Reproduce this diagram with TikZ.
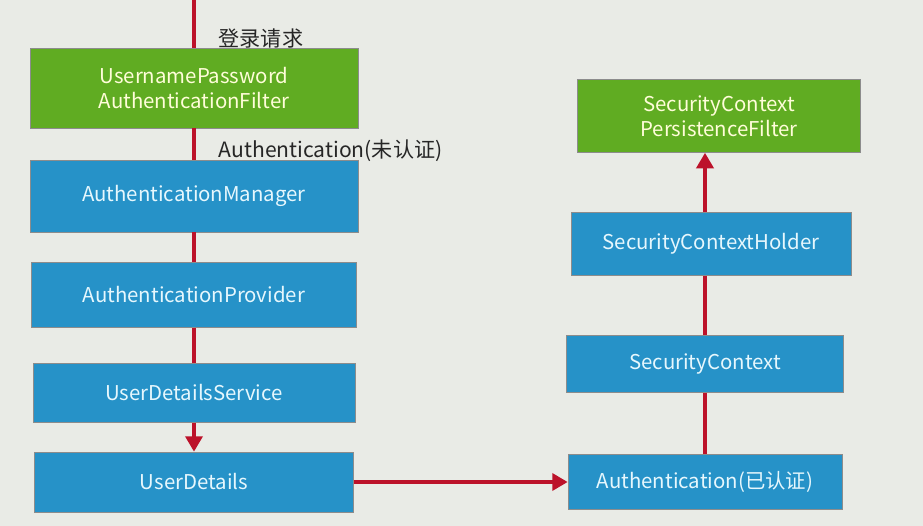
\documentclass[tikz,border=0pt]{standalone}
\usepackage{fontspec}
\setmainfont{Noto Sans CJK SC}
\usetikzlibrary{positioning, arrows.meta}

\definecolor{boxblue}{RGB}{38,146,200}
\definecolor{boxgreen}{RGB}{96,172,34}
\definecolor{flowred}{RGB}{188,18,42}
\definecolor{paper}{RGB}{233,235,230}

\begin{document}
\begin{tikzpicture}[x=0.025cm, y=-0.025cm,
    box/.style={rectangle, draw=black!45, thin, text centered, font=\fontsize{14.5}{18}\selectfont, inner sep=2pt},
    bluebox/.style={box, fill=boxblue, text=white!90!cyan},
    greenbox/.style={box, fill=boxgreen, text=yellow!15!white, text width=6.5cm},
    flow/.style={draw=flowred, line width=3pt},
    flowarrow/.style={flow, -{Triangle[width=12pt, length=11pt]}},
    lbl/.style={font=\fontsize{15}{18}\selectfont, text=black!85, right, xshift=0.45cm}]
    % Background
    \fill [paper] (0,0) rectangle (923,526);
    \useasboundingbox (0,0) rectangle (923,526);

    % Left column
    \coordinate (entry) at (194,0);
    \node [greenbox, minimum width=328*0.025cm, minimum height=80*0.025cm] (upaf) at (194,88) {UsernamePassword\\AuthenticationFilter};
    \node [bluebox, minimum width=328*0.025cm, minimum height=72*0.025cm] (manager) at (194,196) {AuthenticationManager};
    \node [bluebox, minimum width=325*0.025cm, minimum height=65*0.025cm] (provider) at (194,295) {AuthenticationProvider};
    \node [bluebox, minimum width=322*0.025cm, minimum height=59*0.025cm] (udservice) at (194,393) {UserDetailsService};
    \node [bluebox, minimum width=319*0.025cm, minimum height=60*0.025cm] (userdetails) at (194,482) {UserDetails};

    % Right column
    \node [bluebox, minimum width=274*0.025cm, minimum height=55*0.025cm] (authdone) at (705,482) {Authentication(已认证)};
    \node [bluebox, minimum width=277*0.025cm, minimum height=57*0.025cm] (context) at (705,364) {SecurityContext};
    \node [bluebox, minimum width=280*0.025cm, minimum height=63*0.025cm] (holder) at (711,244) {SecurityContextHolder};
    \node [greenbox, text width=5.5cm, minimum width=283*0.025cm, minimum height=73*0.025cm] (scpf) at (719,116) {SecurityContext\\PersistenceFilter};

    % Connectors
    \draw [flow] (entry) -- node [lbl, pos=0.8] (reqlabel) {登录请求} (upaf.north);
    \draw [flow] (upaf.south) -- node [lbl, pos=0.72] (unauthlabel) {Authentication(未认证)} (manager.north);
    \draw [flow] (manager.south) -- (provider.north);
    \draw [flow] (provider.south) -- (udservice.north);
    \draw [flowarrow] (udservice.south) -- (userdetails.north);
    \draw [flowarrow] (userdetails.east) -- (authdone.west);
    \draw [flow] (authdone.north) -- (context.south);
    \draw [flow] (context.north) -- (holder.south -| context.north);
    \draw [flowarrow] (holder.north -| context.north) -- (scpf.south -| context.north);
\end{tikzpicture}
\end{document}
